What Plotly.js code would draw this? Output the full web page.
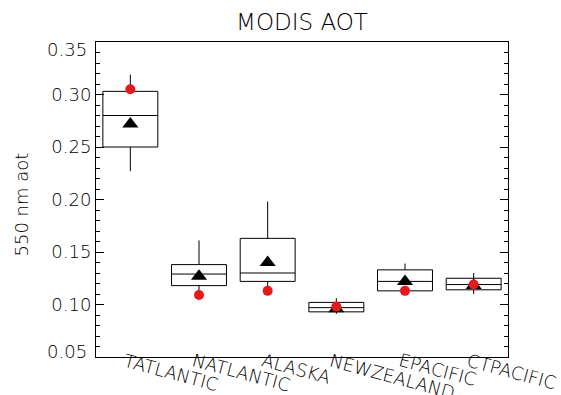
<!DOCTYPE html>
<html>
<head>
<meta charset="utf-8">
<script src="https://cdn.plot.ly/plotly-3.0.1.min.js"></script>
<style>
  html, body { margin: 0; padding: 0; background: #fff; }
  #chart { width: 561px; height: 395px; }
</style>
</head>
<body>
<div id="chart"></div>
<script>
// ---- data ----
var regions      = ["TATLANTIC", "NATLANTIC", "ALASKA", "NEWZEALAND", "EPACIFIC", "CTPACIFIC"];
var whiskerLow   = [0.227, 0.112, 0.116, 0.091, 0.110, 0.110];
var q1           = [0.250, 0.118, 0.122, 0.093, 0.113, 0.114];
var medianVals   = [0.280, 0.129, 0.130, 0.097, 0.122, 0.119];
var q3           = [0.303, 0.138, 0.163, 0.102, 0.133, 0.125];
var whiskerHigh  = [0.319, 0.161, 0.198, 0.106, 0.139, 0.130];
var meanVals     = [0.272, 0.127, 0.140, 0.096, 0.122, 0.118];   // black triangles
var otherVals    = [0.305, 0.109, 0.113, 0.098, 0.113, 0.119];   // red dots
var titleText    = "MODIS AOT";
var yTitleText   = "550 nm aot";
var yTickVals    = [0.05, 0.10, 0.15, 0.20, 0.25, 0.30, 0.35];
var yTickText    = ["0.05", "0.10", "0.15", "0.20", "0.25", "0.30", "0.35"];

var FONT = "DejaVu Sans, Liberation Sans, sans-serif";
var WEIGHT = 200;

var traces = [
  {
    type: "box",
    x: regions,
    q1: q1,
    median: medianVals,
    q3: q3,
    lowerfence: whiskerLow,
    upperfence: whiskerHigh,
    width: 0.8,
    whiskerwidth: 0,
    boxpoints: false,
    fillcolor: "rgba(0,0,0,0)",
    line: { color: "#000000", width: 1 },
    hoverinfo: "skip",
    showlegend: false
  },
  {
    type: "scatter",
    mode: "markers",
    x: regions,
    y: meanVals,
    marker: { symbol: "triangle-up", size: 14, color: "#000000" },
    hoverinfo: "skip",
    showlegend: false
  },
  {
    type: "scatter",
    mode: "markers",
    x: regions,
    y: otherVals,
    marker: { symbol: "circle", size: 10, color: "#e41a1c" },
    hoverinfo: "skip",
    showlegend: false
  }
];

// interior tick labels drawn by the axis; the two end labels are nudged inward like the reference
var axisTickText = yTickText.map(function (t, i) {
  return (i === 0 || i === yTickText.length - 1) ? "" : t;
});

var annotations = regions.map(function (r) {
  return {
    text: r,
    x: r, xref: "x",
    y: 0, yref: "paper",
    xanchor: "left", yanchor: "top",
    xshift: -11, yshift: 10,
    textangle: 15,
    showarrow: false,
    font: { family: FONT, size: 18, color: "#000000", weight: WEIGHT }
  };
});
annotations.push({
  text: yTickText[0],
  x: 0, xref: "paper",
  y: yTickVals[0], yref: "y",
  xanchor: "right", yanchor: "middle",
  xshift: -7, yshift: 6,
  showarrow: false,
  font: { family: FONT, size: 18, color: "#000000", weight: WEIGHT }
});
annotations.push({
  text: yTickText[yTickText.length - 1],
  x: 0, xref: "paper",
  y: yTickVals[yTickVals.length - 1], yref: "y",
  xanchor: "right", yanchor: "middle",
  xshift: -7, yshift: -7,
  showarrow: false,
  font: { family: FONT, size: 18, color: "#000000", weight: WEIGHT }
});
annotations.push({
  text: yTitleText,
  x: 0, xref: "paper",
  y: 0.5, yref: "paper",
  xanchor: "center", yanchor: "middle",
  xshift: -75, yshift: -5,
  textangle: -90,
  showarrow: false,
  font: { family: FONT, size: 18, color: "#000000", weight: WEIGHT }
});

var layout = {
  width: 561,
  height: 395,
  margin: { l: 96, r: 53, t: 42, b: 38, pad: 0 },
  paper_bgcolor: "#ffffff",
  plot_bgcolor: "#ffffff",
  font: { family: FONT, color: "#000000", weight: WEIGHT },
  title: {
    text: titleText,
    font: { family: FONT, size: 23, color: "#000000", weight: WEIGHT },
    x: 0.5, xref: "paper", xanchor: "center",
    y: 1 - 21.7 / 395, yref: "container", yanchor: "middle"
  },
  xaxis: {
    type: "category",
    range: [-0.5, 5.5],
    showticklabels: false,
    ticks: "",
    showgrid: false,
    zeroline: false,
    showline: true,
    mirror: true,
    linecolor: "#000000",
    linewidth: 1
  },
  yaxis: {
    range: [0.05, 0.35],
    tickmode: "array",
    tickvals: yTickVals,
    ticktext: axisTickText,
    ticks: "inside",
    ticklen: 8,
    tickwidth: 1,
    tickcolor: "#000000",
    minor: { dtick: 0.01, ticks: "inside", ticklen: 4, tickwidth: 1, tickcolor: "#000000", showgrid: false },
    showgrid: false,
    zeroline: false,
    showline: true,
    mirror: "ticks",
    linecolor: "#000000",
    linewidth: 1,
    tickfont: { family: FONT, size: 18, color: "#000000", weight: WEIGHT }
  },
  annotations: annotations
};

Plotly.newPlot("chart", traces, layout, { staticPlot: true, displayModeBar: false });
</script>
</body>
</html>
